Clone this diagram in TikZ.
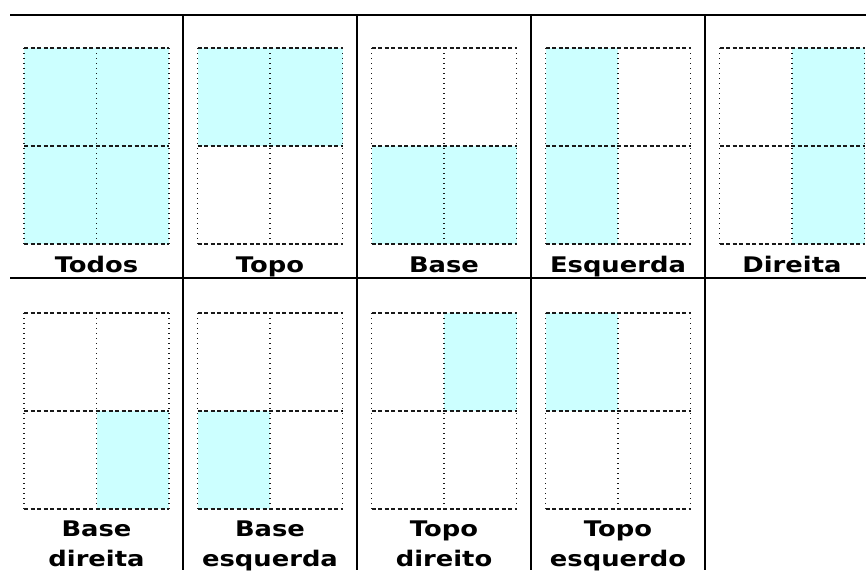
\documentclass[tikz,border=0pt]{standalone}
\usepackage{fontspec}
\newfontfamily\rotulo[FakeStretch=1.2]{DejaVu Sans}
\usepackage{tikz}
\definecolor{ciano}{HTML}{CCFFFF}

% grade 2x2 de uma célula: #1 = x esquerdo, #2 = y do topo
\newcommand{\grade}[2]{%
  \draw[tracejado] (#1,#2) -- ++(145,0) (#1,#2+98) -- ++(145,0) (#1,#2+196) -- ++(145,0);
  \draw[pontilhado] (#1,#2) -- ++(0,196) (#1+72.5,#2) -- ++(0,196) (#1+145,#2) -- ++(0,196);
}

\begin{document}
\begin{tikzpicture}[x=1pt, y=-1pt,
    tracejado/.style={black!90, line width=1.1pt, dash pattern=on 4pt off 2.5pt},
    pontilhado/.style={black!90, line width=1.2pt, dash pattern=on 1.4pt off 3.6pt},
    linha/.style={line width=2pt},
    legenda/.style={anchor=base, inner sep=0pt, font=\rotulo\bfseries\fontsize{21.5}{26}\selectfont}]
  \useasboundingbox (0,0) rectangle (866,570);
  % Áreas preenchidas
  \fill[ciano] (24,48) rectangle (169,244);
  \fill[ciano] (197.5,48) rectangle (342.5,146);
  \fill[ciano] (371.5,146) rectangle (516.5,244);
  \fill[ciano] (545.5,48) rectangle (618,244);
  \fill[ciano] (792,48) rectangle (864.5,244);
  \fill[ciano] (96.5,411) rectangle (169,509);
  \fill[ciano] (197.5,411) rectangle (270,509);
  \fill[ciano] (444,313) rectangle (516.5,411);
  \fill[ciano] (545.5,313) rectangle (618,411);
  % Grades
  \grade{24}{48}
  \grade{197.5}{48}
  \grade{371.5}{48}
  \grade{545.5}{48}
  \grade{719.5}{48}
  \grade{24}{313}
  \grade{197.5}{313}
  \grade{371.5}{313}
  \grade{545.5}{313}
  % Linhas da tabela
  \draw[linha] (10,15) -- (866,15) (10,278) -- (866,278);
  \draw[linha] (183,15) -- (183,570) (357,15) -- (357,570)
               (531,15) -- (531,570) (705,15) -- (705,570);
  % Legendas
  \node[legenda] (todos) at (96.5,272) {Todos};
  \node[legenda] (topo) at (270,272) {Topo};
  \node[legenda] (base) at (444,272) {Base};
  \node[legenda] (esquerda) at (618,272) {Esquerda};
  \node[legenda] (direita) at (792,272) {Direita};
  \node[legenda] (bd1) at (96.5,536) {Base};
  \node[legenda] (bd2) at (96.5,566) {direita};
  \node[legenda] (be1) at (270,536) {Base};
  \node[legenda] (be2) at (270,566) {esquerda};
  \node[legenda] (td1) at (444,536) {Topo};
  \node[legenda] (td2) at (444,566) {direito};
  \node[legenda] (te1) at (618,536) {Topo};
  \node[legenda] (te2) at (618,566) {esquerdo};
\end{tikzpicture}
\end{document}
